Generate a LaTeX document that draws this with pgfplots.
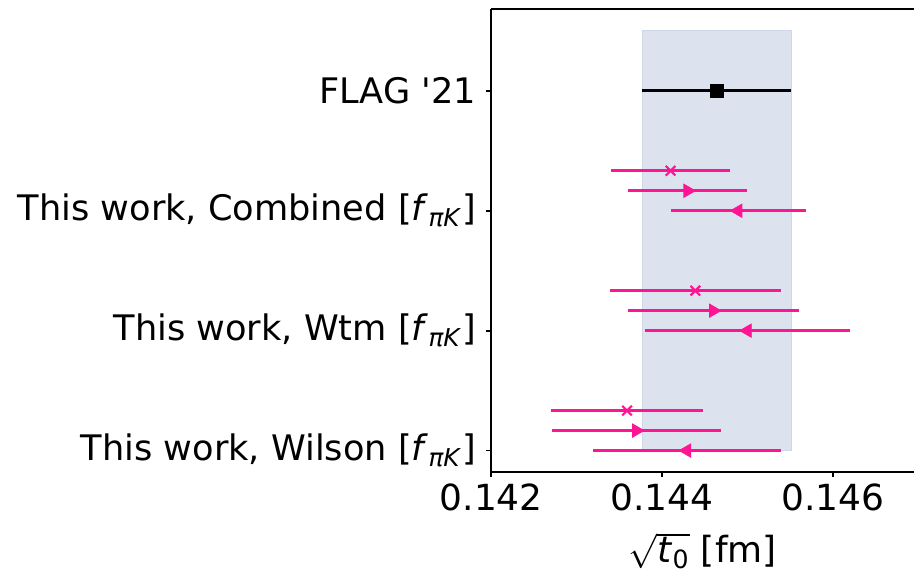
\documentclass[border=0pt]{standalone}
\usepackage{pgfplots}
\pgfplotsset{compat=1.18}
\usepackage{fontspec}
\setmainfont{DejaVu Sans}
\definecolor{dpink}{RGB}{255,20,147}
\definecolor{bandfill}{RGB}{220,227,239}
\definecolor{bandedge}{RGB}{205,215,232}
\newcommand{\fpk}{[\textit{f}\textsubscript{\textit{πK}}]}
\begin{document}
\begin{tikzpicture}
\begin{axis}[
  scale only axis, width=211.65pt, height=231.5pt,
  xmin=0.142, xmax=0.146951, ymin=-0.1775, ymax=3.68,
  axis lines=left, axis line style={-, line width=0.9pt},
  tick align=outside, major tick length=2.6pt, tick style={line width=0.9pt, black},
  xtick={0.142,0.144,0.146}, xticklabels={0.142,0.144,0.146},
  ytick={0,1,2,3},
  yticklabels={{This work, Wilson \fpk},{This work, Wtm \fpk},{This work, Combined \fpk},{FLAG \textquotesingle21}},
  xticklabel style={font=\fontsize{18}{21}\selectfont},
  yticklabel style={font=\fontsize{17.6}{21}\selectfont, xshift=-1.5pt},
  label style={font=\fontsize{18}{21}\selectfont},
  xlabel={$\sqrt{\mbox{\textit{t}\textsubscript{0}}}$ [fm]},
  xlabel style={yshift=-4pt},
  clip=false,
  /pgf/number format/assume math mode=true,
]
\addplot[draw=bandedge, fill=bandfill, line width=0.5pt] coordinates {(0.14377,0) (0.14551,0) (0.14551,3.5) (0.14377,3.5)} -- cycle;

\addplot[only marks, mark=square*, mark size=3.2pt, black,
  error bars/.cd, x dir=both, x explicit, error mark=none, error bar style={line width=1.5pt, black}]
  coordinates {(0.14464,3) +- (0.00087,0)};

\addplot[only marks, mark=x, mark size=3.4pt, dpink, mark options={line width=1.1pt},
  error bars/.cd, x dir=both, x explicit, error mark=none, error bar style={line width=1.5pt, dpink}]
  coordinates {(0.14410,2.3333) +- (0.00070,0) (0.14439,1.3333) +- (0.0010,0) (0.14359,0.3333) +- (0.00089,0)};

\addplot[only marks, mark=triangle*, mark size=3.8pt, dpink, mark options={rotate=-90},
  error bars/.cd, x dir=both, x explicit, error mark=none, error bar style={line width=1.5pt, dpink}]
  coordinates {(0.14430,2.1667) +- (0.00070,0) (0.14460,1.1667) +- (0.0010,0) (0.14370,0.1667) +- (0.00099,0)};

\addplot[only marks, mark=triangle*, mark size=3.8pt, dpink, mark options={rotate=90},
  error bars/.cd, x dir=both, x explicit, error mark=none, error bar style={line width=1.5pt, dpink}]
  coordinates {(0.14489,2) +- (0.00079,0) (0.14500,1) +- (0.0012,0) (0.14429,0) +- (0.00110,0)};

\draw[line width=0.9pt] (rel axis cs:0,1) -- (rel axis cs:1,1);
\end{axis}
\path ([yshift=4.65pt]current axis.north west);
\path ([xshift=-245.85pt]current axis.south west);
\end{tikzpicture}
\end{document}
